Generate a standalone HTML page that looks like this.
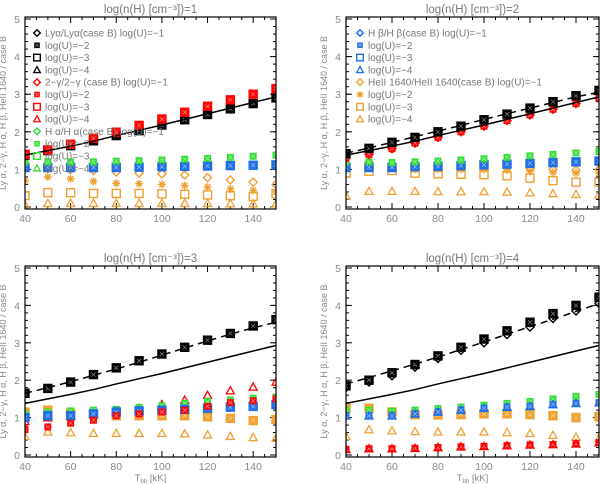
<!DOCTYPE html>
<html><head><meta charset="utf-8">
<style>
body{margin:0;background:#fff;}
svg{display:block;font-family:"Liberation Sans",sans-serif;}
</style></head>
<body>
<svg id="chart" width="600" height="484" viewBox="0 0 600 484"></svg>
<script>
const temps=[40,50,60,70,80,90,100,110,120,130,140,150];
const yTicks=[0,1,2,3,4,5];
const xTicks=[40,60,80,100,120,140];
const solidLine=[1.38,1.5,1.62,1.75,1.9,2.04,2.18,2.33,2.48,2.63,2.78,2.93];
const dashed2=[1.43,1.57,1.72,1.87,2.02,2.17,2.33,2.48,2.63,2.78,2.93,3.05];
const dashed3=[1.65,1.8,1.96,2.13,2.3,2.48,2.67,2.86,3.05,3.23,3.4,3.55];
const dashed4=[1.9,2.07,2.25,2.43,2.62,2.82,3.02,3.23,3.43,3.63,3.84,4.05];
const titles=["log(n(H) [cm\u207B\u00B3])=1","log(n(H) [cm\u207B\u00B3])=2","log(n(H) [cm\u207B\u00B3])=3","log(n(H) [cm\u207B\u00B3])=4"];
// panel 1 series
const p1Black=[1.38,1.5,1.63,1.76,1.9,2.03,2.18,2.32,2.46,2.61,2.75,2.9];
const p1Red=[1.4,1.52,1.67,1.83,1.99,2.17,2.34,2.52,2.68,2.85,3.0,3.15];
const p1Green=[1.2,1.2,1.2,1.2,1.22,1.23,1.25,1.27,1.29,1.32,1.35,1.38];
const p1Blue=[1.05,1.05,1.05,1.05,1.05,1.06,1.07,1.08,1.09,1.1,1.11,1.12];
const p1OrDia=[1.05,1.02,1.0,0.97,0.93,0.9,0.88,0.85,0.78,0.72,0.66,0.6];
const p1OrAst=[0.7,0.8,0.75,0.68,0.63,0.62,0.6,0.57,0.53,0.48,0.44,0.4];
const p1OrSq=[0.3,0.38,0.38,0.36,0.36,0.36,0.35,0.34,0.32,0.3,0.28,0.35];
const p1OrTri=[0.06,0.1,0.1,0.1,0.1,0.1,0.1,0.1,0.1,0.09,0.09,0.09];
// panel 2
const p2Black=[1.42,1.56,1.72,1.85,2.0,2.15,2.32,2.47,2.63,2.8,2.96,3.1];
const p2Red=[1.3,1.4,1.55,1.7,1.85,2.0,2.15,2.3,2.45,2.6,2.75,2.9];
const p2Green=[1.2,1.2,1.18,1.2,1.22,1.25,1.28,1.32,1.36,1.4,1.44,1.48];
const p2Blue=[1.05,1.05,1.05,1.07,1.08,1.1,1.12,1.14,1.16,1.18,1.2,1.22];
const p2OrDia=[1.15,1.2,1.15,1.1,1.08,1.07,1.07,1.05,1.02,1.0,0.98,1.0];
const p2OrAst=[1.1,1.05,1.05,1.0,1.0,1.0,1.0,0.98,0.95,0.92,0.9,0.9];
const p2OrSq=[0.9,0.95,0.97,0.9,0.88,0.87,0.86,0.83,0.77,0.7,0.66,0.66];
const p2OrTri=[0.3,0.42,0.42,0.42,0.41,0.41,0.41,0.4,0.38,0.36,0.34,0.32];
// panel 3
const p3Black=[1.65,1.78,1.95,2.15,2.33,2.52,2.7,2.88,3.07,3.25,3.45,3.62];
const p3Red=[0.68,0.75,0.85,0.93,1.05,1.1,1.15,1.2,1.3,1.4,1.45,1.5];
const p3RedTri=[0.9,1.0,1.05,1.1,1.15,1.25,1.35,1.47,1.6,1.72,1.82,1.95];
const p3Green=[1.1,1.15,1.18,1.2,1.22,1.27,1.32,1.38,1.43,1.47,1.52,1.55];
const p3Blue=[1.0,1.05,1.05,1.1,1.15,1.18,1.2,1.22,1.25,1.28,1.3,1.35];
const p3OrSq=[1.15,1.2,1.12,1.08,1.05,1.05,1.05,1.05,1.02,0.98,0.92,0.95];
const p3OrTri=[0.5,0.62,0.6,0.58,0.58,0.58,0.58,0.57,0.54,0.5,0.47,0.45];
// panel 4
const p4Black=[1.85,2.0,2.2,2.42,2.65,2.88,3.1,3.32,3.55,3.78,4.0,4.22];
const p4BlackDia=[1.8,1.95,2.12,2.35,2.58,2.8,3.0,3.22,3.42,3.65,3.85,4.05];
const p4Green=[1.2,1.2,1.17,1.2,1.24,1.28,1.33,1.38,1.43,1.5,1.57,1.62];
const p4Blue=[1.05,1.05,1.05,1.1,1.15,1.2,1.25,1.28,1.3,1.35,1.38,1.4];
const p4OrSq=[1.25,1.25,1.15,1.08,1.07,1.08,1.1,1.1,1.08,1.05,1.0,1.02];
const p4OrTri=[0.5,0.68,0.65,0.63,0.62,0.62,0.62,0.6,0.58,0.53,0.48,0.45];
const p4Red=[0.15,0.17,0.17,0.18,0.2,0.22,0.23,0.25,0.27,0.28,0.3,0.33];

const C={k:"#000",r:"#f00",g:"#33dd33",b:"#1e6ee6",o:"#f0a030"};
const NS="http://www.w3.org/2000/svg";
const svg=document.getElementById('chart');
function mk(tag,attrs,parent){const e=document.createElementNS(NS,tag);for(const k in attrs)e.setAttribute(k,attrs[k]);(parent||svg).appendChild(e);return e;}

const panels=[
 {x0:25,x1:276,yTop:17,yBot:209,y0:207,y5:19,title:titles[0],dashed:null,xlab:false,
  series:[[p1OrTri,'o','tri'],[p1OrSq,'o','sq'],[p1OrAst,'o','ast'],[p1OrDia,'o','dia'],[p1Blue,'b','sq'],[p1Blue,'b','fill'],[p1Green,'g','fill'],[p1Black,'k','sq'],[p1Black,'k','fill'],[p1Red,'r','fill'],[p1Red,'r','sq']]},
 {x0:346,x1:599,yTop:17,yBot:209,y0:207,y5:19,title:titles[1],dashed:dashed2,xlab:false,
  series:[[p2OrTri,'o','tri'],[p2OrSq,'o','sq'],[p2OrAst,'o','ast'],[p2OrDia,'o','dia'],[p2Blue,'b','sq'],[p2Blue,'b','fill'],[p2Green,'g','fill'],[p2Red,'r','dia'],[p2Red,'r','fill'],[p2Black,'k','sq'],[p2Black,'k','fill']]},
 {x0:25,x1:276,yTop:266,yBot:457,y0:455,y5:268,title:titles[2],dashed:dashed3,xlab:true,
  series:[[p3OrTri,'o','tri'],[p3RedTri,'r','tri'],[p3OrSq,'o','sq'],[p3OrSq,'o','fill'],[p3Green,'g','fill'],[p3Blue,'b','sq'],[p3Blue,'b','fill'],[p3Red,'r','fill'],[p3Black,'k','sq'],[p3Black,'k','fill']]},
 {x0:346,x1:599,yTop:266,yBot:457,y0:455,y5:268,title:titles[3],dashed:dashed4,xlab:true,
  series:[[p4OrTri,'o','tri'],[p4Red,'r','fill'],[p4Red,'r','tri'],[p4OrSq,'o','sq'],[p4OrSq,'o','fill'],[p4Green,'g','fill'],[p4Blue,'b','tri'],[p4Blue,'b','fill'],[p4BlackDia,'k','dia'],[p4Black,'k','sq'],[p4Black,'k','fill']]}
];

function marker(g,type,cx,cy,col,s){
 s=s||4;
 if(type==='dia')mk('polygon',{points:`${cx},${cy-s} ${cx+s},${cy} ${cx},${cy+s} ${cx-s},${cy}`,fill:'none',stroke:col,'stroke-width':1.4},g);
 else if(type==='sq')mk('rect',{x:cx-s,y:cy-s,width:2*s,height:2*s,fill:'none',stroke:col,'stroke-width':1.4},g);
 else if(type==='fill'){mk('rect',{x:cx-s+0.5,y:cy-s+0.5,width:2*s-1,height:2*s-1,fill:col,stroke:'none'},g);
   mk('path',{d:`M${cx-s*0.5} ${cy-s*0.5}L${cx+s*0.5} ${cy+s*0.5}M${cx-s*0.5} ${cy+s*0.5}L${cx+s*0.5} ${cy-s*0.5}`,stroke:'#fff','stroke-width':0.6,opacity:0.6},g);}
 else if(type==='tri')mk('polygon',{points:`${cx},${cy-s} ${cx+s},${cy+s*0.8} ${cx-s},${cy+s*0.8}`,fill:'none',stroke:col,'stroke-width':1.3},g);
 else if(type==='ast'){mk('path',{d:`M${cx-s} ${cy}H${cx+s}M${cx} ${cy-s}V${cy+s}M${cx-s*0.7} ${cy-s*0.7}L${cx+s*0.7} ${cy+s*0.7}M${cx-s*0.7} ${cy+s*0.7}L${cx+s*0.7} ${cy-s*0.7}`,stroke:col,'stroke-width':1.4},g);}
}

panels.forEach((p,pi)=>{
 const g=mk('g',{});
 
 
 const sx=v=>p.x0+(v-40)/(150-40)*(p.x1-p.x0);
 const sy=v=>p.y0+(v/5)*(p.y5-p.y0);
 const clip=mk('clipPath',{id:'clip'+pi},g);
 mk('rect',{x:p.x0,y:p.yTop,width:p.x1-p.x0,height:p.yBot-p.yTop},clip);
 const t=mk('text',{x:(p.x0+p.x1)/2,y:p.yTop-4,'text-anchor':'middle','font-size':11.5,fill:'#777'},g);
 t.textContent=p.title;
 
 
 const yt=mk('text',{x:0,y:0,'text-anchor':'middle','font-size':9,fill:'#888',transform:`translate(${p.x0-19},${(p.yTop+p.yBot)/2}) rotate(-90)`},g);
 yt.textContent="Ly \u03B1, 2\u2212\u03B3, H \u03B1, H \u03B2, HeII 1640 / case B";
 
 
 if(p.xlab){
  const xt=mk('text',{x:(p.x0+p.x1)/2,y:p.yBot+24,'text-anchor':'middle','font-size':9.5,fill:'#888'},g);
  xt.innerHTML='T<tspan font-size="6" dy="2">bb</tspan><tspan dy="-2"> [kK]</tspan>';
  
  
 }
 yTicks.forEach(v=>{
  const y=sy(v);
  mk('line',{x1:p.x0,x2:p.x0+6,y1:y,y2:y,stroke:'#000'},g);
  mk('line',{x1:p.x1,x2:p.x1-6,y1:y,y2:y,stroke:'#000'},g);
  const l=mk('text',{x:p.x0-5,y:y+4,'text-anchor':'end','font-size':10.5,fill:'#888'},g);
  l.textContent=v;
  
  
 });
 for(let v=0.2;v<5;v+=0.2){const y=sy(v);mk('line',{x1:p.x0,x2:p.x0+3,y1:y,y2:y,stroke:'#000'},g);mk('line',{x1:p.x1,x2:p.x1-3,y1:y,y2:y,stroke:'#000'},g);}
 for(let v=45;v<150;v+=5){const x=sx(v);const L=(v%20===0)?6:3;mk('line',{x1:x,x2:x,y1:p.yBot,y2:p.yBot-L,stroke:'#000'},g);mk('line',{x1:x,x2:x,y1:p.yTop,y2:p.yTop+L,stroke:'#000'},g);}
 xTicks.forEach(v=>{
  const l=mk('text',{x:sx(v),y:p.yBot+13,'text-anchor':'middle','font-size':10.5,fill:'#888'},g);
  l.textContent=v;
  
  
 });
 const dg=mk('g',{'clip-path':`url(#clip${pi})`},g);
 p.series.forEach(([arr,c,type])=>{
  const sg=mk('g',{},dg);
  
  
  arr.forEach((v,i)=>marker(sg,type,sx(temps[i]),sy(v),C[c]));
 });
 const line=mk('polyline',{points:temps.map((t,i)=>sx(t)+','+sy(solidLine[i])).join(' '),fill:'none',stroke:'#000','stroke-width':1.5},dg);
 
 
 if(p.dashed){
  const dl=mk('polyline',{points:temps.map((t,i)=>sx(t)+','+sy(p.dashed[i])).join(' '),fill:'none',stroke:'#000','stroke-width':1.5,'stroke-dasharray':'7,5'},dg);
  
  
 }
 mk('rect',{x:p.x0,y:p.yTop,width:p.x1-p.x0,height:p.yBot-p.yTop,fill:'none',stroke:'#000','stroke-width':1.2},g);
});

const leg1=[['k','dia','Ly\u03B1/Ly\u03B1(case B) log(U)=\u22121'],['k','fill','log(U)=\u22122'],['k','sq','log(U)=\u22123'],['k','tri','log(U)=\u22124'],
 ['r','dia','2\u2212\u03B3/2\u2212\u03B3 (case B) log(U)=\u22121'],['r','fill','log(U)=\u22122'],['r','sq','log(U)=\u22123'],['r','tri','log(U)=\u22124'],
 ['g','dia','H \u03B1/H \u03B1(case B) log(U)=\u22121'],['g','fill','log(U)=\u22122'],['g','sq','log(U)=\u22123'],['g','tri','log(U)=\u22124']];
const leg2=[['b','dia','H \u03B2/H \u03B2(case B) log(U)=\u22121'],['b','fill','log(U)=\u22122'],['b','sq','log(U)=\u22123'],['b','tri','log(U)=\u22124'],
 ['o','dia','HeII 1640/HeII 1640(case B) log(U)=\u22121'],['o','ast','log(U)=\u22122'],['o','sq','log(U)=\u22123'],['o','tri','log(U)=\u22124']];
function legend(items,x,y,name){
 const g=mk('g',{});
 
 
 items.forEach(([c,type,label],i)=>{
  const yy=y+i*12.3;
  marker(g,type,x,yy,C[c],3.3);
  const t=mk('text',{x:x+8,y:yy+3.5,'font-size':10,fill:'#777'},g);
  t.textContent=label;
  
  
 });
}
legend(leg1,37,33,'legend-panel-1');
legend(leg2,360,33,'legend-panel-2');
</script>
</body></html>
